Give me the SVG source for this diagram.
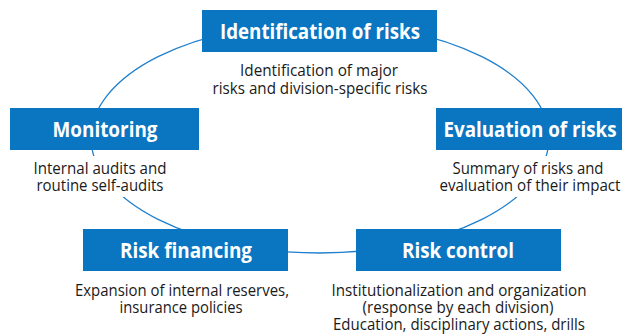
<svg xmlns="http://www.w3.org/2000/svg" width="624" height="335" viewBox="0 0 624 335">
  <style>
    .box { fill: #0a76c1; }
    .title { font-family: "Open Sans", "Liberation Sans", sans-serif; font-weight: 700; font-size: 22px; fill: #ffffff; text-anchor: middle; }
    .desc { font-family: "Open Sans", "Liberation Sans", sans-serif; font-size: 15.5px; fill: #1a1a1a; text-anchor: middle; }
    .cycle { fill: none; stroke: #1f7fcc; stroke-width: 1.3; }
    .mask { fill: #ffffff; }
  </style>
  <rect width="624" height="335" fill="#ffffff"/>

  <!-- cycle connecting the five stages -->
  <g id="connectors">
    <ellipse class="cycle" cx="320" cy="138" rx="229" ry="115"/>
  </g>

  <g id="identification">
    <rect class="box" x="202" y="10" width="235" height="42"/>
    <text class="title" x="320" y="39" textLength="200" lengthAdjust="spacingAndGlyphs">Identification of risks</text>
    <text class="desc" x="319" y="76" textLength="158" lengthAdjust="spacingAndGlyphs">Identification of major</text>
    <text class="desc" x="320" y="94" textLength="215" lengthAdjust="spacingAndGlyphs">risks and division-specific risks</text>
  </g>

  <g id="monitoring">
    <rect class="box" x="10" y="108" width="189" height="42"/>
    <text class="title" x="105" y="137" textLength="105" lengthAdjust="spacingAndGlyphs">Monitoring</text>
    <rect class="mask" x="28" y="156" width="144" height="41"/>
    <text class="desc" x="100" y="174" textLength="133" lengthAdjust="spacingAndGlyphs">Internal audits and</text>
    <text class="desc" x="100" y="191" textLength="127" lengthAdjust="spacingAndGlyphs">routine self-audits</text>
  </g>

  <g id="evaluation">
    <rect class="box" x="436" y="108" width="186" height="42"/>
    <text class="title" x="530" y="137" textLength="173" lengthAdjust="spacingAndGlyphs">Evaluation of risks</text>
    <rect class="mask" x="438" y="156" width="186" height="41"/>
    <text class="desc" x="528" y="174" textLength="151" lengthAdjust="spacingAndGlyphs">Summary of risks and</text>
    <text class="desc" x="530" y="191" textLength="181" lengthAdjust="spacingAndGlyphs">evaluation of their impact</text>
  </g>

  <g id="risk-financing">
    <rect class="box" x="83" y="229" width="205" height="42"/>
    <text class="title" x="186" y="258" textLength="132" lengthAdjust="spacingAndGlyphs">Risk financing</text>
    <text class="desc" x="182" y="296" textLength="214" lengthAdjust="spacingAndGlyphs">Expansion of internal reserves,</text>
    <text class="desc" x="181" y="313" textLength="123" lengthAdjust="spacingAndGlyphs">insurance policies</text>
  </g>

  <g id="risk-control">
    <rect class="box" x="356" y="229" width="205" height="42"/>
    <text class="title" x="458" y="258" textLength="112" lengthAdjust="spacingAndGlyphs">Risk control</text>
    <text class="desc" x="459" y="296" textLength="255" lengthAdjust="spacingAndGlyphs">Institutionalization and organization</text>
    <text class="desc" x="458" y="313" textLength="191" lengthAdjust="spacingAndGlyphs">(response by each division)</text>
    <text class="desc" x="459" y="330" textLength="252" lengthAdjust="spacingAndGlyphs">Education, disciplinary actions, drills</text>
  </g>
</svg>
